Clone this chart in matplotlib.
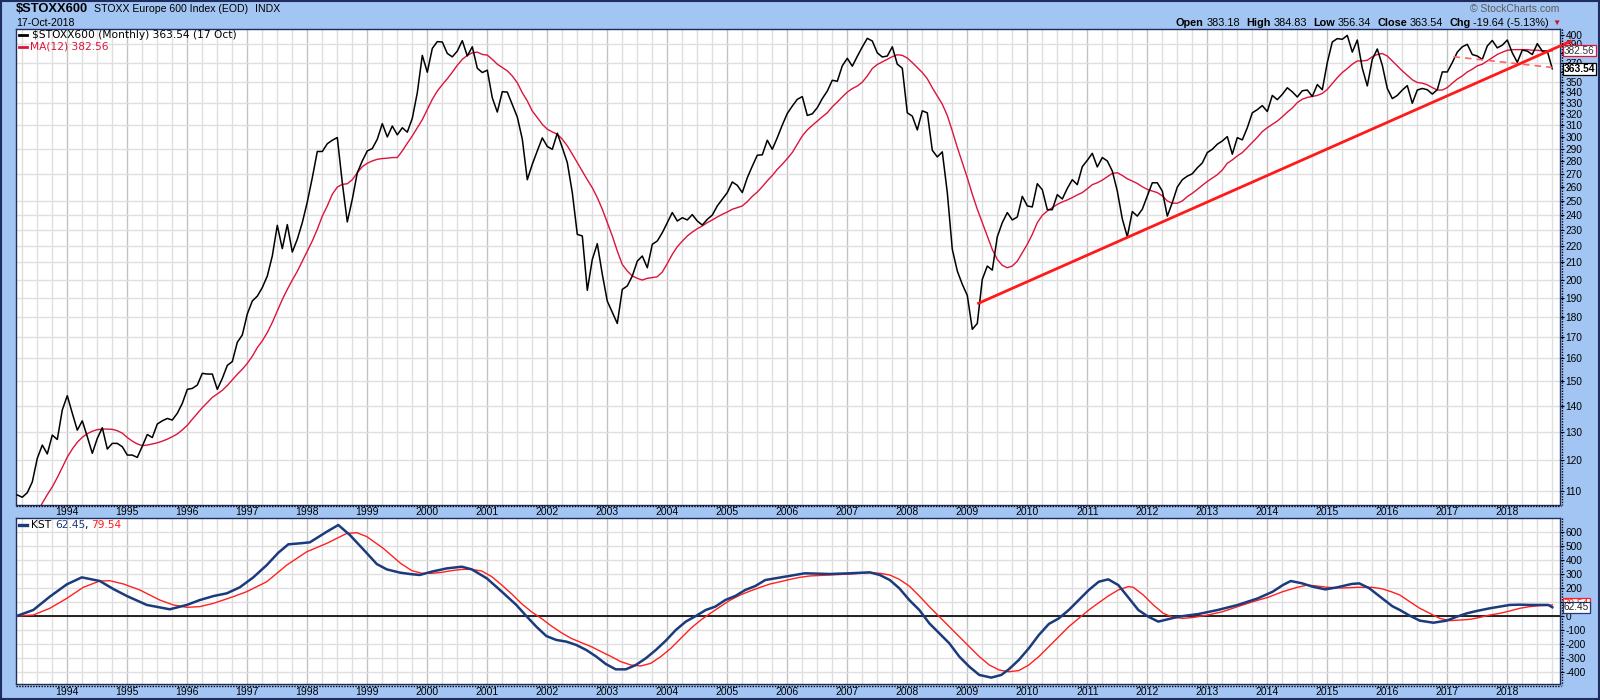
import numpy as np
import matplotlib
matplotlib.use("Agg")
import matplotlib.pyplot as plt
from matplotlib.lines import Line2D
from matplotlib.patches import Rectangle
from matplotlib.ticker import NullLocator

# --- data ----------------------------------------------------------------
# monthly closes of $STOXX600, Mar 1993 .. Oct 2018
price_start = 1993 + 2 / 12
price = [
    108.7, 108.0, 109.4, 112.8, 120.6, 125.2, 122.1, 128.8, 127.2, 138.3,
    144.0, 137.0, 130.6, 134.1, 128.2, 122.3, 127.6, 131.5, 123.8, 125.8, 125.8, 124.6,
    121.7, 121.7, 120.9, 124.8, 129.0, 127.9, 132.9, 134.1, 135.0, 134.4, 137.0, 140.9,
    146.6, 147.0, 148.4, 153.4, 153.1, 153.1, 146.6, 151.2, 156.9, 158.6, 167.5, 171.0,
    181.5, 188.3, 190.9, 195.6, 202.1, 213.9, 233.3, 218.4, 233.8, 216.3, 224.3, 235.1,
    249.3, 267.0, 287.6, 287.6, 294.0, 296.9, 299.2, 263.2, 235.6, 251.2, 270.8, 280.0,
    288.1, 290.0, 297.8, 311.2, 299.7, 309.1, 301.5, 307.6, 303.8, 316.0, 339.7, 377.6,
    360.0, 385.1, 392.6, 392.2, 379.7, 376.0, 382.2, 393.7, 377.0, 386.9, 364.1, 359.7,
    362.1, 334.8, 321.6, 340.7, 340.3, 328.6, 317.1, 297.8, 265.5, 277.4, 288.1, 298.9,
    291.7, 289.4, 302.9, 290.8, 278.7, 256.0, 227.4, 226.4, 194.1, 211.8, 221.5, 203.1,
    188.2, 182.3, 176.7, 194.6, 196.5, 202.1, 210.8, 213.9, 206.9, 221.1, 223.2, 228.5,
    235.1, 241.9, 236.2, 238.4, 236.9, 240.5, 236.2, 233.5, 237.3, 240.2, 246.5, 251.2,
    256.0, 263.8, 261.3, 256.0, 267.0, 275.9, 284.6, 284.9, 296.9, 289.4, 299.1, 310.0,
    320.3, 327.1, 333.4, 336.0, 318.5, 320.0, 325.6, 334.1, 341.3, 351.9, 350.9, 366.6,
    374.5, 366.2, 376.6, 386.7, 396.3, 393.3, 380.3, 375.9, 376.9, 386.9, 368.3, 364.1,
    320.9, 317.9, 305.7, 322.7, 320.9, 288.6, 283.2, 287.3, 256.0, 218.0, 205.0, 197.4,
    191.3, 173.8, 176.7, 200.2, 207.9, 205.5, 225.9, 235.1, 241.9, 236.9, 238.9, 253.3,
    246.5, 245.8, 262.5, 258.1, 243.9, 243.9, 254.5, 251.4, 259.0, 265.5, 261.8, 275.5,
    280.5, 286.1, 275.3, 282.7, 280.0, 272.1, 257.1, 237.6, 225.9, 242.6, 239.5, 244.2,
    253.6, 263.2, 263.2, 257.1, 239.5, 248.8, 260.0, 265.5, 268.2, 270.0, 274.6, 278.4,
    286.7, 289.4, 293.6, 296.3, 300.0, 285.4, 299.1, 297.2, 307.6, 320.9, 323.8, 327.5,
    322.1, 337.1, 333.1, 338.1, 344.5, 340.6, 335.6, 341.6, 342.3, 336.1, 347.6, 342.6,
    370.0, 392.2, 396.0, 395.2, 399.6, 381.1, 394.4, 364.1, 346.3, 373.4, 384.5, 367.2,
    343.8, 334.1, 337.1, 342.3, 346.6, 329.7, 342.3, 343.8, 342.6, 338.4, 342.6, 360.3,
    360.3, 370.0, 381.1, 386.9, 389.6, 378.5, 376.9, 373.3, 387.8, 393.9, 385.7, 388.7,
    394.4, 380.3, 370.3, 383.3, 382.2, 378.5, 390.4, 382.2, 382.2, 363.54,
]

# MA(12), Jul 1993 .. Oct 2018
ma_start = 1993 + 6 / 12
ma12 = [
    103.5, 106.2, 108.8, 111.2, 114.2, 117.5,
    121.0, 123.8, 126.2, 128.0, 129.3, 130.2, 130.8, 131.0, 131.0, 130.9, 130.4, 129.5,
    127.9, 126.6, 125.6, 125.0, 125.2, 125.6, 126.0, 126.6, 127.3, 128.2, 129.2, 130.7,
    132.4, 134.7, 136.9, 139.2, 141.2, 143.3, 144.7, 146.2, 148.2, 150.6, 153.0, 155.2,
    157.8, 161.0, 165.0, 168.2, 172.2, 177.2, 183.1, 189.1, 194.6, 199.8, 204.8, 210.8,
    217.0, 223.2, 230.7, 239.5, 246.5, 254.8, 260.0, 262.0, 262.5, 265.5, 270.8, 275.5,
    278.2, 280.0, 281.3, 281.9, 282.2, 282.7, 282.7, 288.1, 294.4, 300.6, 307.6, 314.7,
    323.9, 333.4, 341.3, 347.6, 353.4, 360.0, 367.2, 373.4, 377.6, 380.4, 381.1, 378.6,
    377.9, 373.4, 368.3, 364.8, 361.4, 356.2, 349.4, 339.7, 331.9, 322.5, 316.6, 310.6,
    306.3, 304.0, 302.0, 297.8, 292.2, 285.5, 278.7, 272.1, 265.5, 259.5, 252.4, 244.2,
    235.1, 226.4, 216.9, 208.8, 205.0, 202.1, 200.8, 199.8, 200.8, 201.2, 201.7, 204.4,
    209.4, 214.9, 219.6, 223.1, 226.4, 228.9, 231.1, 232.9, 235.1, 236.9, 238.9, 240.7,
    242.3, 244.2, 245.3, 246.5, 249.5, 253.3, 256.4, 260.3, 264.7, 268.7, 273.4, 277.4,
    281.9, 286.8, 293.6, 300.6, 305.7, 309.7, 313.5, 317.3, 320.9, 326.4, 330.9, 335.7,
    340.3, 343.7, 346.2, 350.0, 356.2, 363.8, 368.0, 370.7, 373.4, 376.2, 378.3, 377.6,
    374.8, 370.0, 364.8, 359.7, 353.4, 344.5, 336.6, 328.8, 318.5, 304.8, 291.0, 278.7,
    267.0, 254.8, 244.2, 235.1, 226.4, 217.9, 211.8, 208.3, 206.9, 207.9, 210.8, 215.9,
    221.1, 227.4, 235.1, 240.0, 243.0, 245.3, 247.6, 249.3, 250.7, 252.4, 254.3, 256.0,
    258.8, 261.8, 263.2, 265.2, 267.7, 270.3, 270.8, 268.7, 266.2, 264.5, 262.7, 260.3,
    258.3, 257.1, 256.0, 253.6, 250.0, 248.4, 248.4, 250.0, 253.1, 255.5, 258.3, 261.3,
    264.2, 266.7, 269.3, 272.9, 278.2, 280.8, 284.0, 286.7, 290.8, 295.1, 299.4, 304.3,
    307.7, 310.6, 313.5, 317.3, 321.5, 325.3, 330.3, 333.5, 335.2, 336.1, 337.1, 339.0,
    342.9, 348.6, 354.5, 359.7, 363.8, 368.3, 371.7, 371.7, 372.4, 376.2, 378.6, 379.6,
    376.9, 371.7, 366.6, 361.4, 356.9, 352.4, 349.7, 349.0, 347.4, 344.7, 342.3, 342.3,
    344.7, 349.0, 353.1, 356.2, 360.3, 363.1, 366.6, 368.3, 371.7, 375.2, 378.6, 381.0,
    383.1, 383.8, 383.8, 383.8, 383.8, 383.1, 383.1, 382.4, 382.1, 382.56,
]

# KST line, months after Jan 1994
kst_m = [
    -10.1, -6.8, -3.5, -0.1, 2.9, 6.5, 9.2, 11.9, 15.9, 20.5,
    23.9, 26.5, 29.3, 31.9, 34.5, 37.2, 39.9, 42.2, 44.2, 46.5,
    48.5, 51.9, 54.2, 56.5, 59.2, 61.9, 63.9, 66.5, 68.5, 70.5,
    72.9, 75.9, 78.9, 80.9, 83.9, 86.9, 89.8, 91.8, 93.8, 95.8,
    97.8, 99.8, 101.8, 103.8, 105.8, 107.7, 109.7, 111.7, 113.7, 115.7,
    117.7, 119.7, 121.7, 123.7, 125.7, 127.7, 129.6, 131.6, 133.6, 135.6,
    137.6, 139.6, 141.6, 143.6, 145.6, 147.5, 152.5, 156.5, 160.5, 162.5,
    164.5, 166.4, 168.4, 170.4, 172.4, 174.4, 176.4, 178.4, 180.4, 182.4,
    184.8, 186.8, 188.3, 190.3, 192.3, 194.3, 196.3, 198.3, 200.3, 202.3,
    204.3, 206.3, 208.2, 210.2, 212.2, 214.2, 216.2, 218.2, 222.2, 226.2,
    230.1, 234.1, 238.1, 241.1, 243.1, 244.7, 247.0, 249.0, 251.6, 254.0,
    256.9, 258.4, 260.4, 263.0, 265.0, 266.5, 268.5, 270.5, 273.2, 275.9,
    277.9, 279.9, 281.9, 284.5, 286.5, 288.5, 290.5, 292.5, 294.5, 296.2,
    297,
]
kst = [
    0, 43, 138, 226, 276, 250, 193, 143, 79, 48,
    79, 114, 143, 162, 205, 276, 364, 452, 512, 519,
    526, 602, 650, 579, 476, 371, 333, 310, 300, 293,
    317, 340, 352, 333, 269, 174, 79, 0, -76, -143,
    -171, -183, -207, -243, -290, -343, -381, -381, -350, -302,
    -243, -176, -100, -40, 0, 43, 67, 114, 143, 186,
    214, 257, 269, 281, 293, 305, 300, 305, 312, 293,
    257, 198, 114, 43, -52, -124, -195, -290, -362, -421,
    -440, -421, -381, -314, -231, -136, -57, -17, 43, 114,
    186, 245, 262, 221, 133, 43, -5, -40, -5, 14,
    43, 79, 126, 174, 221, 250, 233, 210, 190, 205,
    229, 233, 198, 126, 70, 43, 2, -33, -48, -33,
    -5, 19, 36, 55, 67, 79, 81, 79, 79, 79,
    62.45,
]

# KST signal line
sig_m = [
    -10.1, -6.8, -3.5, -0.1, 3.2, 6.5, 8.5, 11.2, 14.5, 18.5,
    21.2, 23.9, 26.5, 29.2, 33.2, 35.9, 39.9, 43.9, 47.9, 51.9,
    55.9, 57.9, 59.9, 63.2, 66.7, 68.9, 70.9, 72.9, 74.9, 76.9,
    78.9, 80.9, 82.9, 84.9, 86.9, 88.9, 90.8, 92.8, 94.8, 96.8,
    98.8, 100.8, 102.8, 104.8, 106.8, 108.8, 110.7, 112.7, 114.7, 116.7,
    118.7, 120.7, 122.7, 124.7, 126.7, 128.6, 130.6, 132.6, 134.6, 136.6,
    138.6, 140.6, 142.6, 144.6, 146.5, 148.5, 152.5, 156.5, 160.5, 162.5,
    164.5, 166.4, 168.4, 170.4, 172.4, 174.4, 176.4, 178.4, 180.4, 182.4,
    184.4, 186.4, 188.3, 190.3, 192.3, 194.3, 196.3, 198.3, 200.3, 202.3,
    204.3, 206.3, 208.2, 210.2, 212.2, 213.2, 215.2, 217.2, 219.2, 221.2,
    223.2, 225.2, 228.1, 231.1, 234.1, 237.1, 240.1, 243.1, 246.0, 248.0,
    250.0, 252.0, 255.0, 257.9, 260.9, 262.9, 264.9, 266.5, 268.5, 270.5,
    272.5, 274.5, 276.5, 278.5, 280.5, 282.5, 284.5, 286.5, 288.5, 290.5,
    292.5, 294.5, 296.5, 297,
]
sig = [
    0, 7, 55, 126, 205, 250, 252, 229, 186, 114,
    79, 62, 67, 90, 138, 174, 245, 364, 459, 519,
    590, 595, 567, 483, 375, 324, 305, 305, 312, 324,
    333, 333, 321, 281, 221, 157, 90, 31, -17, -71,
    -119, -160, -190, -219, -255, -290, -326, -350, -357, -338,
    -290, -231, -160, -88, -29, 19, 67, 114, 150, 179,
    205, 229, 245, 262, 276, 286, 293, 300, 310, 305,
    293, 262, 214, 143, 67, -5, -76, -148, -219, -290,
    -350, -386, -398, -390, -350, -290, -219, -148, -76, -17,
    43, 95, 143, 186, 210, 205, 150, 79, 19, -10,
    -17, -10, 7, 31, 67, 102, 133, 174, 205, 221,
    214, 205, 200, 205, 205, 195, 172, 150, 102, 55,
    19, -17, -33, -29, -24, -10, 7, 19, 36, 55,
    67, 74, 76, 79.54,
]

# hand-drawn trend lines (months after Jan 1994, price)
trend_m, trend_v = [182.0, 300.9], [186.8, 393.6]
dash_m, dash_v = [277.2, 298.0], [376.2, 364.3]

years = list(range(1994, 2019))
price_ticks = list(range(110, 401, 10))
price_hidden = (360, 380)          # covered by the last-value tags
price_grid = list(range(110, 251, 10)) + list(range(270, 391, 20))
kst_ticks = list(range(-400, 601, 100))
kst_hidden = (100,)

# --- style ---------------------------------------------------------------
BG = "#a2c5f3"
FRAME = "#1f2d5c"
C_YEAR = "#c2c2c2"
C_QTR = "#dfdfdf"
C_MA = "#dc143c"
C_KST = "#1c3b7c"
C_SIG = "#ff2020"
C_TREND = "#ff1a1a"
plt.rcParams["font.family"] = ["Liberation Sans", "DejaVu Sans"]

W, H = 1600, 700
fig = plt.figure(figsize=(16, 7), dpi=100, facecolor=BG)
renderer = fig.canvas.get_renderer()


def fx(px):
    return px / W


def fy(py):
    return 1 - py / H


def ftext(x, y, s, **kw):
    kw.setdefault("va", "center")
    return fig.text(fx(x), fy(y), s, parse_math=False, **kw)


def chain(x, y, parts, right=None):
    """Lay text pieces side by side; parts = (text, gap after, kwargs)."""
    items = []
    for s, gap, kw in parts:
        t = ftext(0, y, s, ha="left", **kw)
        items.append((t, gap, t.get_window_extent(renderer).width))
    if right is not None:
        x = right - sum(w + g for _, g, w in items) + items[-1][1]
    for t, gap, w in items:
        t.set_x(fx(x))
        x += w + gap
    return x


ax1 = fig.add_axes([fx(16), fy(504.5), fx(1560) - fx(16), fy(29) - fy(504.5)])
ax2 = fig.add_axes([fx(16), fy(684), fx(1560) - fx(16), fy(518) - fy(684)])

x0 = 1994 - 10.26 / 12
x1 = 1994 + 298.54 / 12
for ax in (ax1, ax2):
    ax.set_facecolor("white")
    ax.set_xlim(x0, x1)
    for q in np.arange(1993.25, 2019, 0.25):
        if x0 < q < x1:
            yr = abs(q - round(q)) < 1e-6
            ax.axvline(q, color=C_YEAR if yr else C_QTR, lw=1, zorder=0.5)
    for s in ax.spines.values():
        s.set_color(FRAME)
        s.set_linewidth(1)
    ax.set_xticks(years)
    ax.set_xticklabels([str(y) for y in years])
    ax.tick_params(axis="x", length=0, pad=2, labelsize=7.5)
    ax.yaxis.tick_right()
    ax.tick_params(axis="y", direction="out", length=3, width=0.8, pad=1,
                   labelsize=7.3, color="black")

# --- price panel ---------------------------------------------------------
ax1.set_yscale("log")
ax1.set_ylim(105.8, 406.9)
for v in price_grid:
    ax1.axhline(v, color=C_QTR, lw=1, zorder=0.5)
ax1.set_yticks(price_ticks)
ax1.set_yticklabels(["" if t in price_hidden else str(t) for t in price_ticks])
ax1.yaxis.set_minor_locator(NullLocator())

x_price = price_start + np.arange(len(price)) / 12
x_ma = ma_start + np.arange(len(ma12)) / 12
ax1.plot(x_ma, ma12, color=C_MA, lw=1.0, zorder=2.8)
ax1.plot(x_price, price, color="black", lw=1.1, zorder=3)
ax1.plot(1994 + np.array(trend_m) / 12, trend_v, color=C_TREND, lw=2.0,
         zorder=3.2, clip_on=False, solid_capstyle="butt")
ax1.plot(1994 + np.array(dash_m) / 12, dash_v, color="#ff6464", lw=1.2,
         ls=(0, (4, 3)), zorder=3.1)

# --- KST panel -----------------------------------------------------------
ax2.set_ylim(-485.7, 700)
for v in kst_ticks:
    ax2.axhline(v, color=C_QTR, lw=1, zorder=0.5)
ax2.axhline(0, color="black", lw=1.2, zorder=1.5)
ax2.set_yticks(kst_ticks)
ax2.set_yticklabels(["" if t in kst_hidden else str(t) for t in kst_ticks])
ax2.plot(1994 + np.array(sig_m) / 12, sig, color=C_SIG, lw=1.0, zorder=2.8)
ax2.plot(1994 + np.array(kst_m) / 12, kst, color=C_KST, lw=1.8, zorder=3)

# dotted tick rails along right and bottom edges
for (xa, ya, xb, yb) in [(1561.5, 29, 1561.5, 505), (16, 505.5, 1561, 505.5),
                         (1561.5, 518, 1561.5, 685), (16, 685.5, 1561, 685.5)]:
    fig.add_artist(Line2D([fx(xa), fx(xb)], [fy(ya), fy(yb)], transform=fig.transFigure,
                          color="black", lw=1, ls=(0, (1, 1))))
fig.add_artist(Rectangle((0.0005, 0.001), 0.999, 0.998, transform=fig.transFigure,
                         fill=False, ec=FRAME, lw=1.5))

# --- header --------------------------------------------------------------
chain(16, 9, [("$STOXX600", 6, dict(fontsize=9.3, fontweight="bold")),
              ("STOXX Europe 600 Index (EOD)", 7, dict(fontsize=7.6)),
              ("INDX", 0, dict(fontsize=7.6))])
ftext(16, 22.5, "17-Oct-2018", fontsize=7.6)
ftext(1559, 9, "\u00a9 StockCharts.com", ha="right", fontsize=7.5, color="#5a5a5a")
B = dict(fontsize=7.8, fontweight="bold")
N = dict(fontsize=7.8)
chain(0, 22.7, [("Open", 3, B), ("383.18", 6, N), ("High", 3, B), ("384.83", 6, N),
                ("Low", 3, B), ("356.34", 6, N), ("Close", 3, B), ("363.54", 6, N),
                ("Chg", 3, B), ("-19.64 (-5.13%)", 0, N)], right=1549)
ftext(1552, 23, "\u25bc", fontsize=6, color="#cc1030")

# --- in-panel legends ----------------------------------------------------
LEG = dict(fontsize=7.7, family="DejaVu Sans")
fig.add_artist(Line2D([fx(19), fx(27)], [fy(35), fy(35)], transform=fig.transFigure,
                      color="black", lw=2))
ftext(31.5, 35, "$STOXX600 (Monthly) 363.54 (17 Oct)", **LEG)
fig.add_artist(Line2D([fx(19), fx(27)], [fy(46.7), fy(46.7)], transform=fig.transFigure,
                      color=C_MA, lw=2))
ftext(29.5, 46.7, "MA(12) 382.56", color=C_MA, **LEG)

fig.add_artist(Line2D([fx(19), fx(27)], [fy(525), fy(525)], transform=fig.transFigure,
                      color=C_KST, lw=2.4))
chain(31.5, 525, [("KST", 4, LEG), ("62.45", -2, dict(color=C_KST, **LEG)),
                  (",", 4, LEG), ("79.54", 0, dict(color=C_SIG, **LEG))])

# --- last-value tags on the right axis -----------------------------------
TAG = dict(boxstyle="square,pad=0.08", fc="white", lw=0.9)
ftext(1564, 50.7, "382.56", fontsize=7.2, color="#333333", zorder=5,
      bbox=dict(ec=C_MA, **TAG))
ftext(1564, 69.3, "363.54", fontsize=7.4, fontweight="bold", zorder=5,
      bbox=dict(ec="black", **TAG))
ftext(1564, 604, "79.54", fontsize=7.2, color=C_SIG, zorder=5,
      bbox=dict(ec=C_SIG, **TAG))
ftext(1564, 607.5, "62.45", fontsize=7.2, color="#222222", zorder=6,
      bbox=dict(ec=C_KST, **TAG))

fig.savefig("out.png", dpi=100, facecolor=BG)
